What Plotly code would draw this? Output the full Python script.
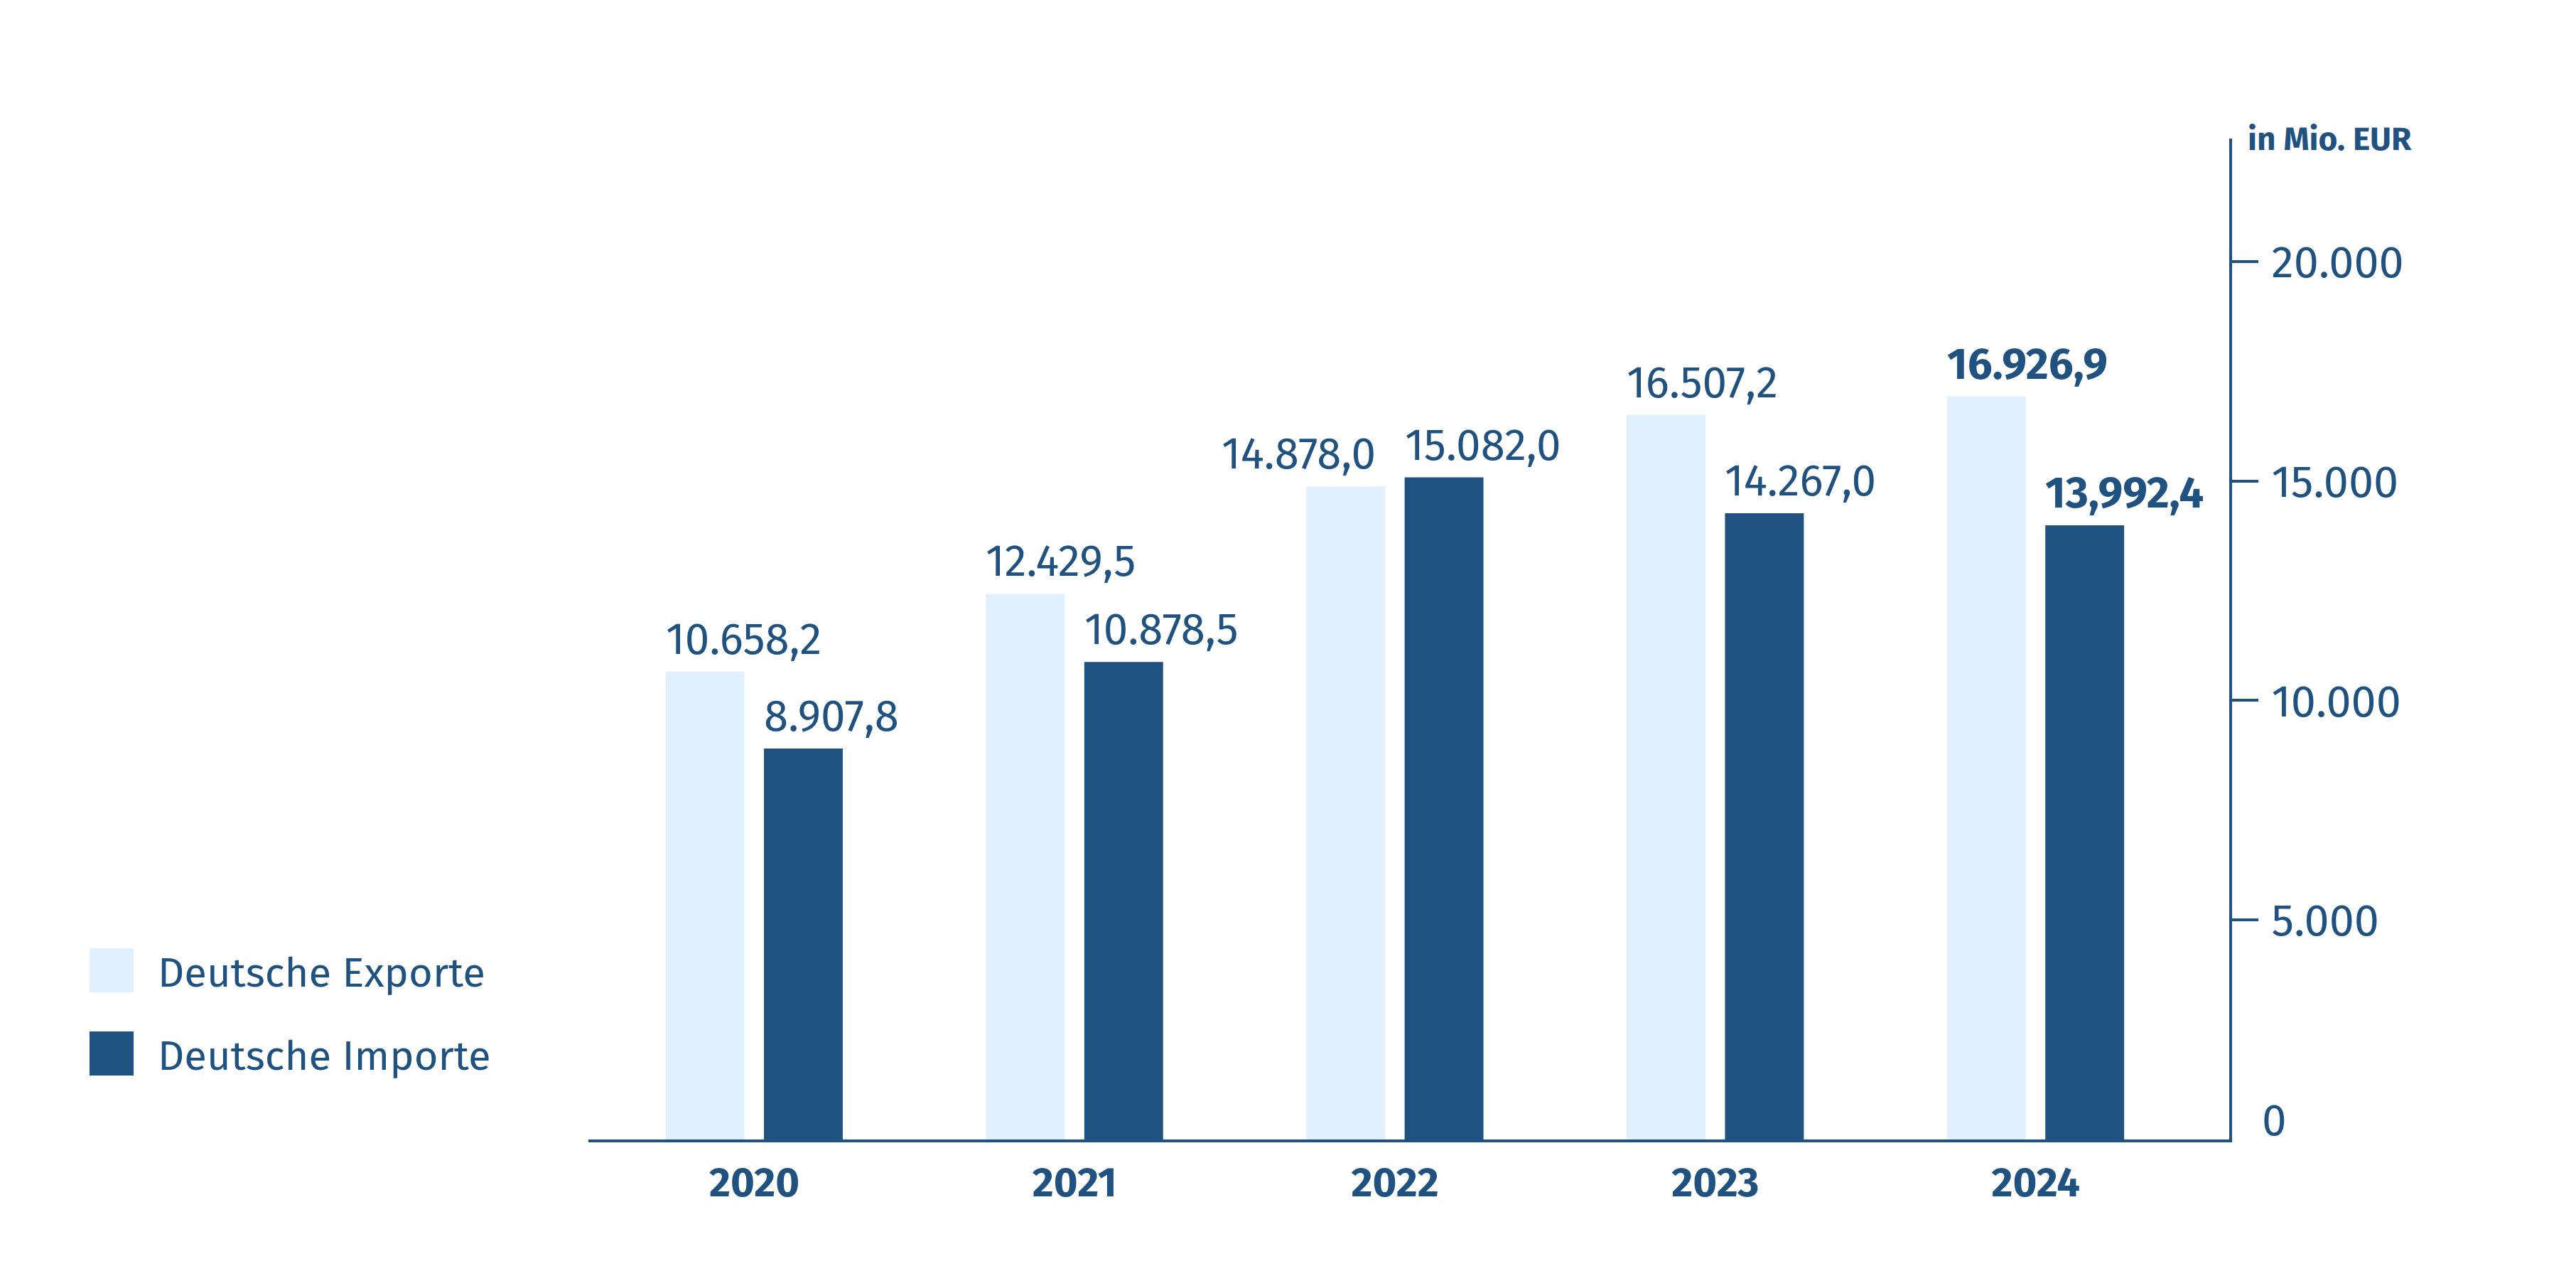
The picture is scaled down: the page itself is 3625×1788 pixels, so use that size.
import plotly.graph_objects as go

# ---------------- data ----------------
years = ["2020", "2021", "2022", "2023", "2024"]
exports = [10658.2, 12429.5, 14878.0, 16507.2, 16926.9]
imports = [8907.8, 10878.5, 15082.0, 14267.0, 13992.4]
export_labels = ["10.658,2", "12.429,5", "14.878,0", "16.507,2", "16.926,9"]
import_labels = ["8.907,8", "10.878,5", "15.082,0", "14.267,0", "13,992,4"]
y_tickvals = [5000, 10000, 15000, 20000]
y_ticktext = ["5.000", "10.000", "15.000", "20.000"]
series_names = ["Deutsche Exporte", "Deutsche Importe"]

# ---------------- style ----------------
OFF = 8  # default page body margin
W, H = 3625 - 2 * OFF, 1788 - 2 * OFF
ML, MT = 828 - OFF, 195 - OFF
PW = 3137 - 828
PH = 1603 - 195
MR = W - ML - PW
MB = H - MT - PH
DARK = "#1F5281"
LIGHT = "#E0F0FE"
FONT = "Fira Sans, Lato, Roboto, sans-serif"
BAR_W = 0.246
EXP_OFF = -0.277
IMP_OFF = 0.030
bold_idx = {4}
export_anchor = ["left", "left", "right", "left", "left"]


def px_x(p):
    return (p - OFF - ML) / PW


def px_y(p):
    return (MT + PH - (p - OFF)) / PH


fig = go.Figure()
fig.add_trace(go.Bar(x=years, y=exports, name=series_names[0], marker=dict(color=LIGHT, line=dict(width=0)),
                     width=BAR_W, offset=EXP_OFF, showlegend=False, hoverinfo="x+y"))
fig.add_trace(go.Bar(x=years, y=imports, name=series_names[1], marker=dict(color=DARK, line=dict(width=0)),
                     width=BAR_W, offset=IMP_OFF, showlegend=False, hoverinfo="x+y"))

LBL = 62
annotations = []
for i, (v, t) in enumerate(zip(exports, export_labels)):
    txt = f"<b>{t}</b>" if i in bold_idx else t
    if export_anchor[i] == "left":
        annotations.append(dict(x=i + EXP_OFF, y=v, text=txt, xref="x", yref="y", xanchor="left",
                                yanchor="bottom", showarrow=False, yshift=7, xshift=-2,
                                font=dict(family=FONT, size=LBL, color=DARK)))
    else:
        annotations.append(dict(x=i + EXP_OFF + BAR_W, y=v, text=txt, xref="x", yref="y", xanchor="right",
                                yanchor="bottom", showarrow=False, yshift=7, xshift=-11,
                                font=dict(family=FONT, size=LBL, color=DARK)))
for i, (v, t) in enumerate(zip(imports, import_labels)):
    txt = f"<b>{t}</b>" if i in bold_idx else t
    annotations.append(dict(x=i + IMP_OFF, y=v, text=txt, xref="x", yref="y", xanchor="left",
                            yanchor="bottom", showarrow=False, yshift=7, xshift=-2,
                            font=dict(family=FONT, size=LBL, color=DARK)))

# unit label
annotations.append(dict(x=1, y=1, xref="paper", yref="paper", xanchor="left", yanchor="middle",
                        xshift=24, yshift=0, text="<b>in Mio. EUR</b>", showarrow=False,
                        font=dict(family=FONT, size=46, color=DARK)))
# zero label
annotations.append(dict(x=1, y=0, xref="paper", yref="y", xanchor="left", yanchor="bottom",
                        xshift=44, yshift=-12, text="0", showarrow=False,
                        font=dict(family=FONT, size=62, color=DARK)))

# manual legend
shapes = []
for k, (name, col) in enumerate(zip(series_names, [LIGHT, DARK])):
    top = 1334 + k * 117
    shapes.append(dict(type="rect", xref="paper", yref="paper", x0=px_x(126), x1=px_x(188),
                       y0=px_y(top + 62), y1=px_y(top), fillcolor=col, line=dict(width=0)))
    annotations.append(dict(x=px_x(220), y=px_y(top + 34), xref="paper", yref="paper", xanchor="left",
                            yanchor="middle", text=name, showarrow=False,
                            font=dict(family=FONT, size=58, color=DARK)))

fig.update_layout(
    width=W, height=H,
    margin=dict(l=ML, r=MR, t=MT, b=MB, pad=0),
    paper_bgcolor="white", plot_bgcolor="white",
    barmode="overlay",
    showlegend=False,
    annotations=annotations,
    shapes=shapes,
    font=dict(family=FONT, color=DARK),
    xaxis=dict(type="category", range=[-0.518, 4.604], showline=True, linewidth=4, linecolor=DARK,
               showgrid=False, zeroline=False, ticks="", ticklabelstandoff=6,
               tickfont=dict(family=FONT, size=58, color=DARK, weight="bold"), fixedrange=True),
    yaxis=dict(side="right", range=[0, 22800], showline=True, linewidth=4, linecolor=DARK,
               showgrid=False, zeroline=False, ticks="outside", ticklen=37, tickwidth=4, tickcolor=DARK,
               tickvals=y_tickvals, ticktext=y_ticktext, ticklabelstandoff=6,
               tickfont=dict(family=FONT, size=63, color=DARK), fixedrange=True),
)

fig.write_html("out.html")
